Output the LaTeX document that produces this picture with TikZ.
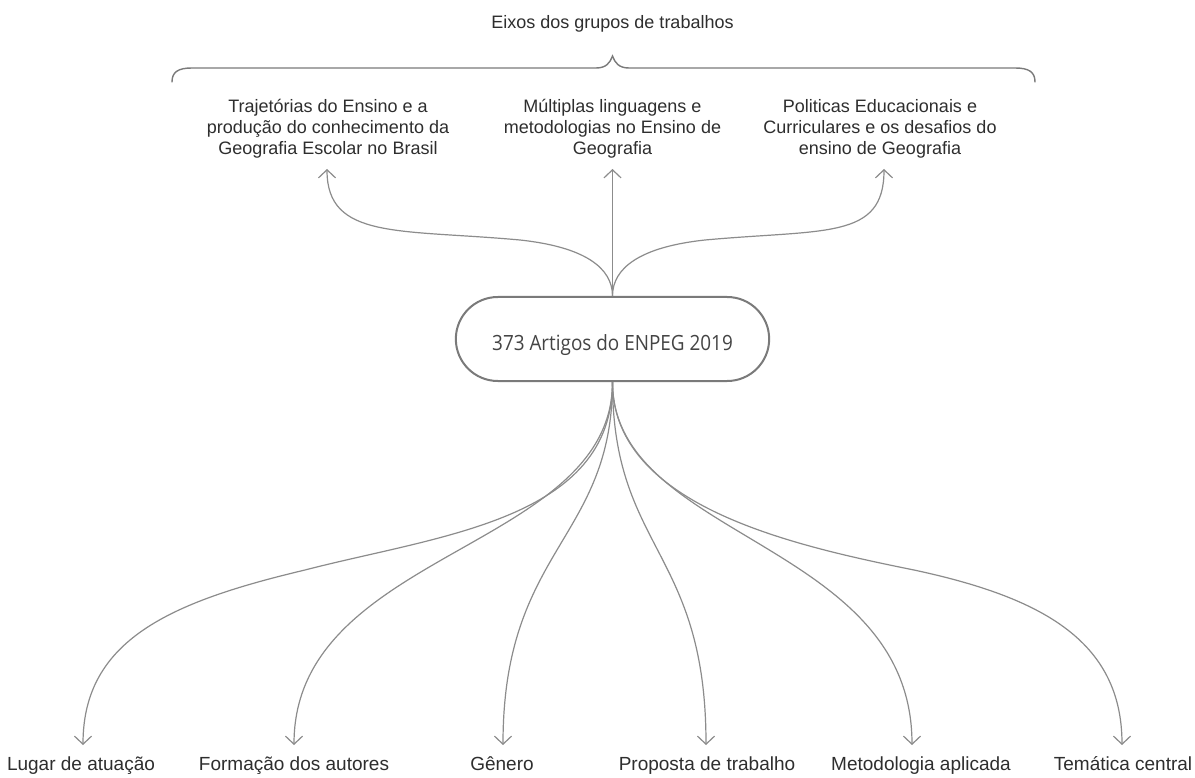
\documentclass[tikz,border=0pt]{standalone}
\usepackage{fontspec}
\setmainfont{Liberation Sans}
\newfontfamily\pillfont[FakeStretch=0.9]{Open Sans}
\usetikzlibrary{arrows.meta,shapes.misc}
\definecolor{conncol}{HTML}{8C8C8C}
\definecolor{bracecol}{HTML}{7A7A7A}
\definecolor{hubcol}{HTML}{7A7A7A}
\definecolor{textcol}{HTML}{2E2E2E}
\definecolor{pilltext}{HTML}{444444}
\begin{document}
\begin{tikzpicture}[x=1pt,y=-1pt,
  conn/.style={draw=conncol,line width=1.2pt,-{Straight Barb[length=8pt,width=17pt]}},
  toplbl/.style={font=\fontsize{18}{21}\selectfont,text=textcol,align=center,inner sep=0pt},
  botlbl/.style={font=\fontsize{19}{21}\selectfont,text=textcol,inner sep=0pt,anchor=base},
  hubstyle/.style={rounded rectangle,draw=hubcol,line width=2pt,minimum width=320pt,
    minimum height=84pt,font=\pillfont\fontsize{21}{24}\selectfont,text=pilltext,
    fill=white,text height=22pt,text depth=0pt},
  bracestyle/.style={draw=bracecol,line width=1.4pt,line cap=round}]
\useasboundingbox[fill=white] (0,0) rectangle (1195,778);

% title and brace
\node[toplbl,anchor=base] (title) at (612.5,29) {Eixos dos grupos de trabalhos};
\draw[bracestyle] (172,82) .. controls (172,72) and (178,68) .. (192,68) -- (596,68)
  .. controls (606,68) and (610,63) .. (612.5,56)
  .. controls (615,63) and (619,68) .. (629,68) -- (1015,68)
  .. controls (1029,68) and (1035,72) .. (1035,82);

% top labels
\node[toplbl] (ax1) at (328,129) {Trajetórias do Ensino e a\\produção do conhecimento da\\Geografia Escolar no Brasil};
\node[toplbl] (ax2) at (612.5,129) {Múltiplas linguagens e\\metodologias no Ensino de\\Geografia};
\node[toplbl] (ax3) at (880,129) {Politicas Educacionais e\\Curriculares e os desafios do\\ensino de Geografia};

% hub
\node[hubstyle] (hub) at (612.5,339) {373 Artigos do ENPEG 2019};

% arrow tip coordinates
\coordinate (tl) at (327,169);
\coordinate (tm) at (612.5,169);
\coordinate (tr) at (884,169);
\coordinate (b1) at (83,745);
\coordinate (b2) at (294,745);
\coordinate (b3) at (503,745);
\coordinate (b4) at (706,745);
\coordinate (b5) at (912,745);
\coordinate (b6) at (1122,745);

% top connectors
\draw[conn] (hub.north) .. controls (612.5,268) and (585,247) .. (520,240)
  .. controls (400,229) and (327,240) .. (tl);
\draw[conn] (hub.north) -- (tm);
\draw[conn] (hub.north) .. controls (612.5,268) and (640,247) .. (705,240)
  .. controls (825,229) and (884,240) .. (tr);

% bottom connectors
\draw[conn] (hub.south) .. controls (612.5,520) and (440,535) .. (305,570)
  .. controls (170,602) and (83,640) .. (b1);
\draw[conn] (hub.south) .. controls (612.5,550) and (294,550) .. (b2);
\draw[conn] (hub.south) .. controls (612.5,540) and (503,548) .. (b3);
\draw[conn] (hub.south) .. controls (612.5,550) and (706,550) .. (b4);
\draw[conn] (hub.south) .. controls (612.5,540) and (912,540) .. (b5);
\draw[conn] (hub.south) .. controls (612.5,505) and (790,545) .. (914,570)
  .. controls (1040,597) and (1122,640) .. (b6);

% bottom labels
\node[botlbl] (c1) at (81,770) {Lugar de atuação};
\node[botlbl] (c2) at (294,770) {Formação dos autores};
\node[botlbl] (c3) at (502,770) {Gênero};
\node[botlbl] (c4) at (707,770) {Proposta de trabalho};
\node[botlbl] (c5) at (921,770) {Metodologia aplicada};
\node[botlbl] (c6) at (1123,770) {Temática central};
\end{tikzpicture}
\end{document}
